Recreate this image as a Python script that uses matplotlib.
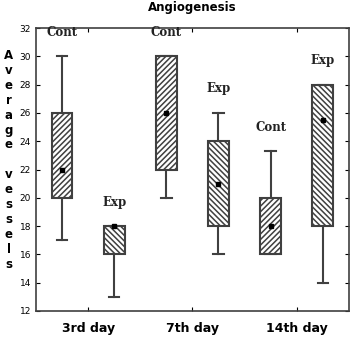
import numpy as np
import matplotlib
matplotlib.use("Agg")
import matplotlib.pyplot as plt

days = ["3rd day", "7th day", "14th day"]
groups = ["Cont", "Exp", "Cont", "Exp", "Cont", "Exp"]
whis_lo = [17, 13, 20, 16, 16, 14]
q1 = [20, 16, 22, 18, 16, 18]
q3 = [26, 18, 30, 24, 20, 28]
whis_hi = [30, 18, 30, 26, 23.3, 28]
means = [22, 18, 26, 21, 18, 25.5]

col = "#404040"
plt.rcParams["hatch.color"] = col
plt.rcParams["hatch.linewidth"] = 1.1

pos = []
for i in range(len(days)):
    pos += [i + 1 - 0.25, i + 1 + 0.25]

fig = plt.figure(figsize=(3.56, 3.38), dpi=100)
ax = fig.add_axes([0.101, 0.080, 0.879, 0.837])

stats = []
for k in range(len(groups)):
    stats.append(dict(med=means[k], q1=q1[k], q3=q3[k], whislo=whis_lo[k],
                      whishi=whis_hi[k], mean=means[k], fliers=[]))

bp = ax.bxp(stats, positions=pos, widths=0.2, patch_artist=True, showmeans=True,
            boxprops=dict(facecolor="white", edgecolor=col, linewidth=1.5),
            whiskerprops=dict(color=col, linewidth=1.5),
            capprops=dict(color=col, linewidth=1.5),
            medianprops=dict(linewidth=0),
            meanprops=dict(marker="s", markersize=2.5, markerfacecolor="black",
                           markeredgecolor="black"),
            capwidths=0.1)
for k, b in enumerate(bp["boxes"]):
    b.set_hatch("//////" if groups[k] == "Cont" else "\\\\\\\\\\\\")

for k in range(len(groups)):
    ax.text(pos[k], whis_hi[k] + 1.7, groups[k], ha="center", va="center",
            family="DejaVu Serif", fontweight="bold", fontsize=8.5, color="#222222")

ax.set_xlim(0.5, 3.5)
ax.set_ylim(12, 32)
ax.set_yticks(np.arange(12, 33, 2))
ax.set_xticks([1, 2, 3])
ax.set_xticklabels(days, fontweight="bold", fontsize=9)
ax.tick_params(axis="y", labelsize=6.5, direction="in", right=True, length=3)
ax.tick_params(axis="x", direction="in", top=True, length=3, pad=8)
for s in ax.spines.values():
    s.set_color(col)
    s.set_linewidth(1.2)

ax.set_title("Angiogenesis", fontweight="bold", fontsize=8.5, pad=12)

label = "Average vessels"
fig.text(0.024, 0.527, "\n".join(label), ha="center", va="center",
         fontweight="bold", fontsize=8.5, linespacing=1.19)

fig.savefig("out.png", dpi=100)
